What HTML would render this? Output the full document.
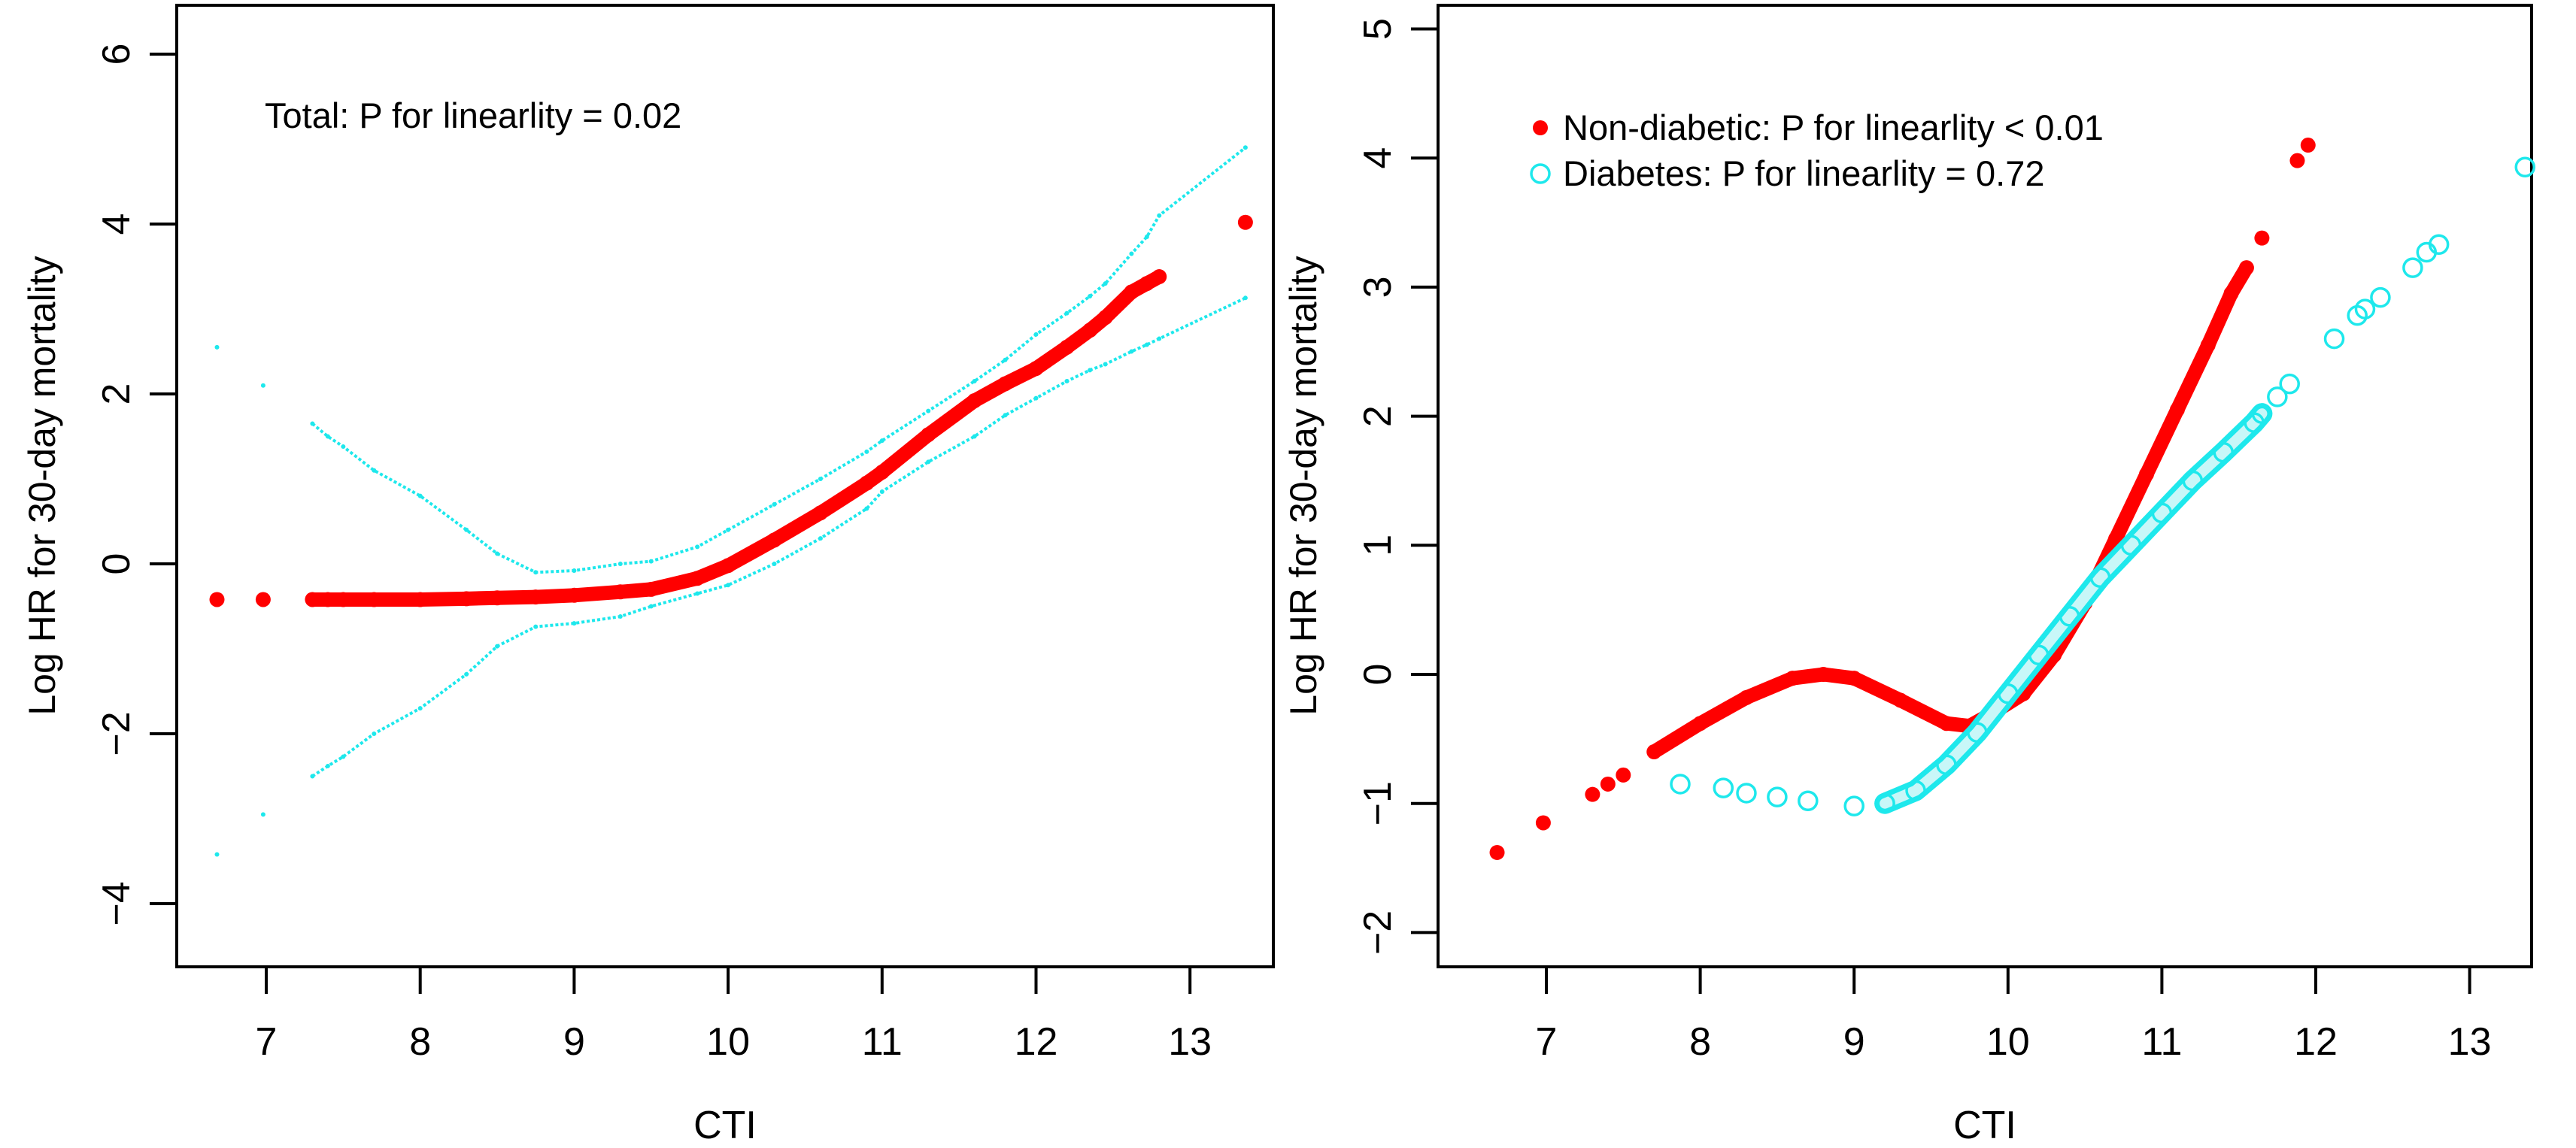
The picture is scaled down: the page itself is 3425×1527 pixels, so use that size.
<!DOCTYPE html>
<html><head><meta charset="utf-8"><style>
body{margin:0;background:#fff}
svg{display:block}
text{font-family:"Liberation Sans",Arial,sans-serif;fill:#000}
</style></head><body>
<svg id="chart" xmlns="http://www.w3.org/2000/svg" width="3425" height="1527" viewBox="0 0 3425 1527">
<g id="left"></g>
<g id="right"></g>
</svg>
<script>
// Left panel data
const leftX = [6.68,6.98,7.3,7.4,7.5,7.7,8,8.3,8.5,8.75,9,9.3,9.5,9.8,10,10.3,10.6,10.9,11,11.3,11.6,11.8,12,12.2,12.35,12.45,12.62,12.72,12.8,13.36];
const leftFit = [-0.42,-0.42,-0.42,-0.42,-0.42,-0.42,-0.42,-0.41,-0.4,-0.39,-0.37,-0.33,-0.3,-0.17,-0.02,0.28,0.6,0.95,1.08,1.52,1.92,2.12,2.3,2.55,2.75,2.9,3.2,3.3,3.38,4.02];
const leftUpper = [2.55,2.1,1.65,1.5,1.38,1.1,0.8,0.4,0.12,-0.1,-0.08,0,0.03,0.2,0.4,0.7,1.0,1.32,1.45,1.8,2.15,2.4,2.7,2.95,3.15,3.3,3.65,3.85,4.1,4.9];
const leftLower = [-3.42,-2.95,-2.5,-2.38,-2.27,-2.0,-1.7,-1.3,-0.97,-0.74,-0.7,-0.62,-0.5,-0.35,-0.25,0.0,0.3,0.65,0.85,1.2,1.5,1.75,1.95,2.15,2.28,2.35,2.5,2.58,2.65,3.13];
const xTicks = [7,8,9,10,11,12,13];
const leftYTicks = [-4,-2,0,2,4,6];
// Right panel data
const nonDiabX = [6.68,6.98,7.3,7.4,7.5,7.7,8,8.3,8.6,8.8,9,9.3,9.6,9.75,9.9,10.1,10.3,10.5,10.7,10.9,11.1,11.3,11.45,11.55,11.65,11.88,11.95];
const nonDiabY = [-1.38,-1.15,-0.93,-0.85,-0.78,-0.6,-0.38,-0.18,-0.03,0,-0.03,-0.2,-0.38,-0.4,-0.3,-0.15,0.15,0.55,1.05,1.55,2.05,2.55,2.95,3.15,3.38,3.98,4.1];
const diabX = [7.87,8.15,8.3,8.5,8.7,9.0,9.2,9.4,9.6,9.8,10.0,10.2,10.4,10.6,10.8,11.0,11.2,11.4,11.6,11.65,11.75,11.83,12.12,12.27,12.32,12.42,12.63,12.72,12.8,13.36];
const diabY = [-0.85,-0.88,-0.92,-0.95,-0.98,-1.02,-1.0,-0.9,-0.7,-0.45,-0.15,0.15,0.45,0.75,1.0,1.25,1.5,1.72,1.95,2.02,2.15,2.25,2.6,2.78,2.83,2.92,3.15,3.27,3.33,3.93];
const rightYTicks = [-2,-1,0,1,2,3,4,5];

const CY='#1ee8ec';
const NS="http://www.w3.org/2000/svg";
function mk(parent,tag,attrs){const e=document.createElementNS(NS,tag);for(const k in attrs)e.setAttribute(k,attrs[k]);parent.appendChild(e);return e;}

function panel(g,cfg){
  const sx=v=>cfg.x7+(v-7)*cfg.ux;
  const sy=v=>cfg.y0-v*cfg.uy;
  const frame=mk(g,'rect',{x:cfg.L,y:7,width:cfg.R-cfg.L,height:1279,fill:'none',stroke:'#000','stroke-width':4});
  
  
  xTicks.forEach(t=>{
    const l=mk(g,'line',{x1:sx(t),x2:sx(t),y1:1286,y2:1322,stroke:'#000','stroke-width':4});
    
    
    const tx=mk(g,'text',{x:sx(t),y:1403,'font-size':52,'text-anchor':'middle'});tx.textContent=t;
    
    
  });
  cfg.yTicks.forEach(t=>{
    const l=mk(g,'line',{x1:cfg.L-36,x2:cfg.L,y1:sy(t),y2:sy(t),stroke:'#000','stroke-width':4});
    
    
    const x=cfg.L-80;
    const tx=mk(g,'text',{x:x,y:sy(t),'font-size':52,'text-anchor':'middle',transform:`rotate(-90 ${x} ${sy(t)})`,'dominant-baseline':'central'});
    tx.textContent=t<0?'\u2212'+(-t):t;
    
    
  });
  const xt=mk(g,'text',{x:(cfg.L+cfg.R)/2,y:1514,'font-size':52,'text-anchor':'middle'});xt.textContent='CTI';
  
  
  const yx=cfg.L-162, ymid=646;
  const yt=mk(g,'text',{x:yx,y:ymid,'font-size':50,'text-anchor':'middle',transform:`rotate(-90 ${yx} ${ymid})`});yt.textContent='Log HR for 30-day mortality';
  
  
  return {sx,sy};
}

const lg=document.getElementById('left');
const A=panel(lg,{L:235,R:1693,x7:354,ux:204.7,y0:750,uy:113,yTicks:leftYTicks});
function pts(xs,ys,s){return xs.map((x,i)=>s.sx(x)+','+s.sy(ys[i])).join(' ');}
[[leftUpper,'upper-ci'],[leftLower,'lower-ci']].forEach(([arr,nm])=>{
  const start=2;
  const p=mk(lg,'polyline',{points:pts(leftX.slice(start),arr.slice(start),A),fill:'none',stroke:CY,'stroke-width':4,'stroke-dasharray':'4 3','stroke-linejoin':'round'});
  
  
  leftX.forEach((x,i)=>{
    const c=mk(lg,'circle',{cx:A.sx(x),cy:A.sy(arr[i]),r:3,fill:CY});
    
    
  });
});
const band=mk(lg,'polyline',{points:pts(leftX.slice(2,29),leftFit.slice(2,29),A),fill:'none',stroke:'#f00','stroke-width':19,'stroke-linejoin':'round'});


leftX.forEach((x,i)=>{
  const c=mk(lg,'circle',{cx:A.sx(x),cy:A.sy(leftFit[i]),r:10,fill:'#f00'});
  
  
});
const ann=mk(lg,'text',{x:352,y:170,'font-size':47});ann.textContent='Total: P for linearlity = 0.02';



const rg=document.getElementById('right');
const B=panel(rg,{L:1912,R:3366,x7:2056,ux:204.6,y0:897,uy:171.7,yTicks:rightYTicks});
const nb=mk(rg,'polyline',{points:pts(nonDiabX.slice(5,24),nonDiabY.slice(5,24),B),fill:'none',stroke:'#f00','stroke-width':19,'stroke-linejoin':'round'});


nonDiabX.forEach((x,i)=>{
  const c=mk(rg,'circle',{cx:B.sx(x),cy:B.sy(nonDiabY[i]),r:10,fill:'#f00'});
  
  
});
const dbo=mk(rg,'polyline',{points:pts(diabX.slice(6,20),diabY.slice(6,20),B),fill:'none',stroke:CY,'stroke-width':28,'stroke-linejoin':'round','stroke-linecap':'round'});


const dbi=mk(rg,'polyline',{points:pts(diabX.slice(6,20),diabY.slice(6,20),B),fill:'none',stroke:'#c8f7f8','stroke-width':14,'stroke-linejoin':'round','stroke-linecap':'round'});


diabX.forEach((x,i)=>{
  const c=mk(rg,'circle',{cx:B.sx(x),cy:B.sy(diabY[i]),r:12,fill:'none',stroke:CY,'stroke-width':3.5});
  
  
});
const leg=mk(rg,'g',{});


const d1=mk(leg,'circle',{cx:2048,cy:170,r:10,fill:'#f00'});


const t1=mk(leg,'text',{x:2078,y:186,'font-size':47});t1.textContent='Non-diabetic: P for linearlity < 0.01';


const d2=mk(leg,'circle',{cx:2048,cy:231,r:12,fill:'none',stroke:CY,'stroke-width':3.5});


const t2=mk(leg,'text',{x:2078,y:247,'font-size':47});t2.textContent='Diabetes: P for linearlity = 0.72';


</script>
</body></html>
